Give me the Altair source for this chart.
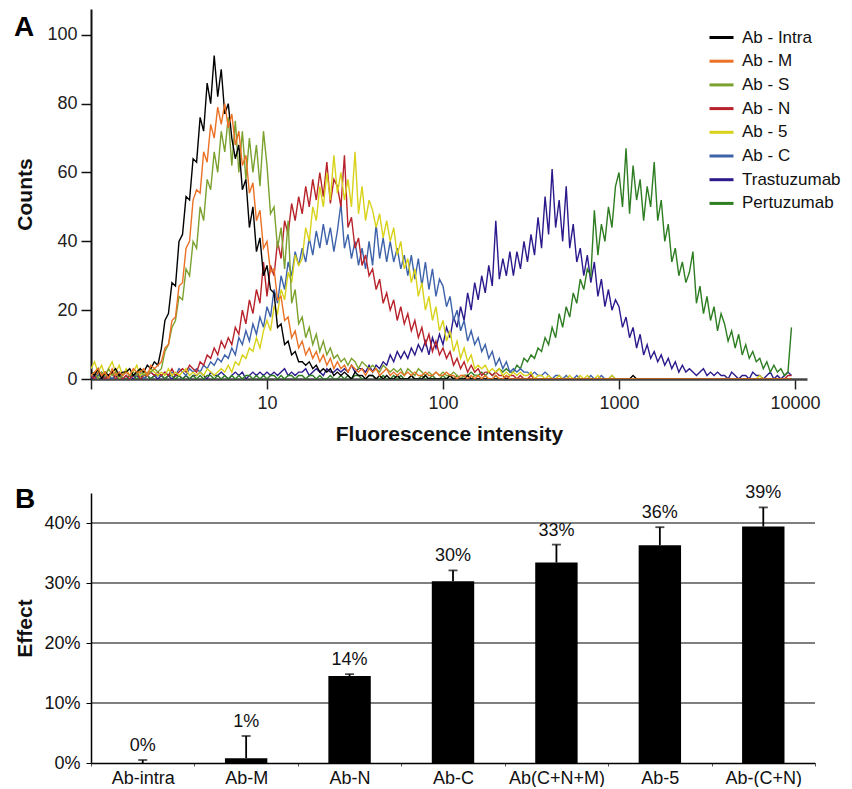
import altair as alt
import pandas as pd

FONT = "Liberation Sans"

# ---------------- Panel A: flow cytometry histograms ----------------
SERIES = ["Ab - Intra", "Ab - M", "Ab - S", "Ab - N", "Ab - 5", "Ab - C",
          "Trastuzumab", "Pertuzumab"]
COLORS = ["#000000", "#EA7125", "#7BA12E", "#B8232B", "#D8D21A", "#3D62AA",
          "#2A1A8C", "#2E7D22"]
DRAW_ORDER = ["Trastuzumab", "Pertuzumab", "Ab - C", "Ab - N", "Ab - 5",
              "Ab - S", "Ab - Intra", "Ab - M"]

# histogram channels: 200 log-spaced bins from 1 to ~9500 (step 0.02 decades)
BINS = [round(10 ** (i * 0.02), 4) for i in range(200)]

AB_INTRA = [2, 1, 3, 0, 2, 1, 2, 3, 1, 2,
            2, 3, 1, 2, 3, 2, 4, 3, 5, 4,
            9, 17, 19, 28, 27, 40, 42, 53, 52, 64,
            63, 76, 72, 86, 80, 94, 82, 90, 77, 80,
            70, 64, 68, 55, 58, 44, 50, 37, 41, 30,
            33, 26, 25, 15, 16, 10, 11, 7, 8, 5,
            5, 4, 5, 3, 4, 2, 3, 2, 3, 1,
            2, 1, 2, 1, 0, 2, 1, 1, 0, 1,
            1, 0, 1, 0, 1, 0, 0, 1, 0, 0,
            0, 1, 0, 0, 0, 1, 0, 0, 0, 0,
            0, 0, 1, 0, 0, 0, 0, 1, 0, 0,
            0, 0, 0, 0, 0, 0, 0, 0, 0, 0,
            0, 0, 0, 0, 0, 0, 0, 0, 0, 0,
            0, 0, 0, 0, 0, 0, 0, 0, 0, 0,
            0, 0, 0, 0, 0, 0, 0, 0, 0, 0,
            0, 0, 0, 0, 1, 0, 0, 0, 0, 0,
            0, 0, 0, 0, 0, 0, 0, 0, 0, 0,
            0, 0, 0, 0, 0, 0, 0, 0, 0, 0,
            0, 0, 0, 0, 0, 0, 0, 0, 0, 0,
            0, 0, 0, 0, 0, 0, 0, 0, 0, 0]

AB_M = [1, 2, 3, 1, 2, 0, 3, 1, 2, 1,
        2, 1, 3, 2, 2, 3, 1, 4, 3, 4,
        5, 9, 10, 17, 18, 27, 28, 38, 40, 52,
        55, 54, 66, 63, 74, 70, 79, 74, 80, 73,
        77, 68, 72, 62, 65, 54, 57, 46, 49, 38,
        40, 31, 32, 23, 24, 17, 18, 12, 14, 9,
        11, 7, 9, 6, 8, 5, 7, 4, 6, 3,
        5, 3, 4, 2, 4, 3, 2, 3, 1, 3,
        2, 3, 1, 2, 3, 1, 2, 1, 2, 1,
        2, 1, 2, 1, 1, 2, 1, 1, 2, 1,
        1, 2, 1, 1, 0, 1, 1, 0, 1, 0,
        1, 0, 1, 0, 0, 1, 0, 0, 1, 0,
        0, 0, 0, 0, 0, 0, 0, 0, 0, 0,
        0, 0, 0, 0, 0, 0, 0, 0, 0, 0,
        0, 0, 0, 0, 0, 0, 0, 0, 0, 0,
        0, 0, 0, 0, 0, 0, 0, 0, 0, 0,
        0, 0, 0, 0, 0, 0, 0, 0, 0, 0,
        0, 0, 0, 0, 0, 0, 0, 0, 0, 0,
        0, 0, 0, 0, 0, 0, 0, 0, 0, 0,
        0, 0, 0, 0, 0, 0, 0, 0, 0, 0]

AB_S = [1, 2, 0, 2, 1, 3, 1, 2, 0, 1,
        2, 1, 2, 1, 3, 1, 2, 2, 3, 2,
        3, 8, 10, 15, 17, 24, 23, 32, 30, 40,
        38, 50, 46, 58, 55, 66, 60, 72, 66, 76,
        62, 75, 60, 72, 58, 70, 60, 68, 56, 72,
        62, 48, 50, 38, 44, 32, 46, 22, 26, 16,
        18, 12, 15, 10, 13, 8, 11, 7, 9, 6,
        7, 5, 6, 4, 6, 5, 3, 5, 4, 3,
        4, 3, 2, 4, 3, 2, 3, 2, 3, 1,
        3, 2, 1, 3, 2, 1, 2, 1, 2, 1,
        2, 1, 1, 2, 1, 0, 1, 1, 0, 1,
        1, 0, 1, 0, 0, 1, 0, 0, 1, 0,
        0, 0, 0, 0, 0, 0, 0, 0, 0, 0,
        0, 0, 0, 0, 0, 0, 0, 0, 0, 0,
        0, 0, 0, 0, 0, 0, 0, 0, 0, 0,
        0, 0, 0, 0, 0, 0, 0, 0, 0, 0,
        0, 0, 0, 0, 0, 0, 0, 0, 0, 0,
        0, 0, 0, 0, 0, 0, 0, 0, 0, 0,
        0, 0, 0, 0, 0, 0, 0, 0, 0, 0,
        0, 0, 0, 0, 0, 0, 0, 0, 0, 0]

AB_N = [1, 0, 2, 1, 0, 1, 2, 0, 1, 0,
        1, 0, 1, 2, 0, 1, 1, 2, 1, 2,
        1, 2, 1, 3, 1, 2, 3, 2, 4, 3,
        2, 5, 4, 7, 6, 9, 7, 11, 9, 12,
        10, 15, 13, 20, 16, 23, 19, 26, 22, 34,
        24, 33, 30, 40, 35, 46, 42, 51, 46, 53,
        48, 56, 50, 58, 52, 60, 53, 63, 51, 58,
        56, 50, 65, 44, 47, 38, 41, 33, 36, 30,
        32, 26, 29, 22, 25, 20, 23, 17, 21, 16,
        19, 14, 17, 12, 15, 10, 13, 8, 11, 7,
        9, 6, 8, 4, 6, 3, 5, 2, 4, 2,
        3, 1, 2, 2, 1, 2, 1, 1, 0, 1,
        1, 0, 1, 0, 0, 1, 0, 0, 0, 0,
        0, 0, 0, 0, 0, 0, 0, 0, 0, 0,
        0, 0, 0, 0, 0, 0, 0, 0, 0, 0,
        0, 0, 0, 0, 0, 0, 0, 0, 0, 0,
        0, 0, 0, 0, 0, 0, 0, 0, 0, 0,
        0, 0, 0, 0, 0, 0, 0, 0, 0, 0,
        0, 0, 0, 0, 0, 0, 0, 0, 0, 0,
        0, 0, 0, 0, 0, 0, 0, 0, 1, 1]

AB_5 = [3, 5, 2, 4, 1, 3, 5, 2, 4, 1,
        3, 1, 2, 4, 1, 2, 1, 3, 2, 1,
        2, 1, 3, 1, 2, 1, 2, 3, 1, 2,
        1, 2, 1, 3, 2, 1, 2, 3, 2, 4,
        2, 5, 4, 7, 6, 9, 8, 12, 9, 14,
        17, 14, 21, 19, 26, 23, 31, 28, 36, 33,
        35, 44, 40, 50, 46, 56, 50, 60, 52, 65,
        54, 60, 52, 58, 50, 66, 48, 56, 46, 52,
        49, 44, 48, 41, 46, 40, 44, 36, 40, 32,
        35, 28, 32, 24, 28, 20, 24, 17, 21, 14,
        17, 11, 14, 8, 11, 6, 9, 5, 7, 3,
        4, 3, 4, 2, 3, 2, 3, 1, 2, 1,
        2, 1, 2, 1, 1, 2, 0, 1, 1, 0,
        1, 0, 0, 1, 0, 0, 1, 0, 0, 1,
        0, 1, 0, 0, 1, 0, 0, 0, 1, 0,
        0, 0, 0, 0, 0, 0, 0, 0, 0, 0,
        0, 0, 0, 0, 0, 0, 0, 0, 0, 0,
        0, 0, 0, 0, 0, 0, 0, 0, 0, 0,
        0, 0, 0, 0, 0, 0, 0, 0, 0, 0,
        1, 0, 0, 0, 0, 0, 0, 0, 0, 0]

AB_C = [1, 0, 1, 2, 0, 1, 0, 1, 2, 0,
        1, 0, 1, 1, 2, 0, 1, 2, 1, 1,
        1, 2, 1, 2, 1, 3, 2, 1, 3, 2,
        3, 2, 4, 3, 5, 4, 6, 5, 7, 6,
        9, 7, 12, 10, 14, 11, 16, 13, 18, 15,
        21, 18, 26, 22, 30, 26, 34, 30, 37, 33,
        38, 34, 41, 36, 43, 38, 45, 39, 44, 37,
        43, 51, 38, 42, 35, 40, 33, 38, 32, 40,
        33, 45, 35, 41, 34, 40, 34, 38, 32, 36,
        30, 36, 29, 35, 27, 34, 26, 32, 24, 29,
        27, 21, 24, 17, 20, 14, 17, 11, 14, 10,
        12, 8, 10, 6, 8, 4, 6, 3, 5, 2,
        3, 2, 3, 2, 2, 1, 2, 1, 1, 2,
        1, 0, 1, 1, 0, 1, 0, 0, 1, 0,
        0, 0, 1, 0, 0, 1, 0, 0, 1, 0,
        0, 0, 0, 0, 0, 0, 0, 0, 0, 0,
        0, 0, 0, 0, 0, 0, 0, 0, 0, 0,
        0, 0, 0, 0, 0, 0, 0, 0, 0, 0,
        0, 0, 0, 0, 0, 0, 0, 0, 0, 0,
        0, 0, 0, 0, 0, 0, 0, 0, 0, 0]

TRASTUZUMAB = [0, 1, 0, 0, 1, 0, 0, 1, 0, 0,
               0, 1, 0, 1, 0, 0, 1, 0, 1, 0,
               1, 0, 1, 0, 1, 1, 0, 1, 0, 1,
               1, 2, 1, 0, 2, 1, 1, 2, 1, 0,
               1, 2, 1, 2, 0, 1, 2, 1, 2, 1,
               2, 1, 2, 1, 2, 3, 1, 2, 1, 2,
               2, 3, 1, 2, 3, 2, 1, 3, 2, 2,
               3, 2, 3, 2, 4, 2, 3, 3, 2, 4,
               2, 4, 3, 5, 4, 7, 5, 8, 6, 8,
               6, 9, 7, 10, 8, 11, 7, 12, 9, 13,
               10, 15, 12, 18, 15, 21, 17, 25, 20, 28,
               23, 30, 25, 33, 27, 46, 29, 35, 30, 37,
               30, 37, 32, 40, 34, 42, 36, 47, 38, 53,
               42, 61, 44, 52, 40, 56, 38, 45, 34, 38,
               30, 36, 28, 34, 24, 29, 21, 26, 20, 23,
               21, 15, 18, 12, 15, 9, 13, 7, 10, 6,
               8, 5, 7, 4, 6, 3, 5, 2, 4, 2,
               3, 2, 1, 2, 3, 1, 2, 1, 2, 1,
               1, 0, 2, 1, 0, 1, 1, 0, 2, 1,
               1, 0, 1, 2, 0, 1, 0, 1, 2, 1]

PERTUZUMAB = [1, 0, 1, 1, 0, 1, 0, 1, 1, 0,
              0, 1, 1, 0, 1, 0, 1, 0, 1, 1,
              1, 0, 1, 1, 0, 1, 0, 1, 0, 1,
              0, 1, 0, 1, 1, 0, 1, 0, 1, 0,
              1, 0, 1, 0, 1, 1, 0, 1, 0, 1,
              0, 1, 1, 0, 1, 0, 1, 1, 0, 1,
              1, 0, 1, 1, 0, 1, 0, 0, 1, 0,
              0, 1, 0, 1, 0, 1, 1, 0, 0, 1,
              1, 0, 0, 1, 0, 0, 1, 0, 1, 0,
              0, 1, 0, 0, 1, 0, 0, 1, 0, 0,
              1, 0, 1, 0, 1, 0, 1, 1, 2, 1,
              1, 2, 1, 2, 1, 2, 3, 2, 3, 2,
              2, 4, 3, 6, 5, 7, 6, 9, 8, 12,
              10, 15, 12, 19, 15, 21, 18, 25, 22, 29,
              26, 32, 30, 49, 36, 45, 40, 50, 44, 56,
              60, 50, 67, 48, 62, 52, 58, 46, 56, 50,
              63, 46, 52, 40, 45, 34, 38, 30, 34, 28,
              31, 37, 22, 27, 19, 24, 17, 21, 14, 19,
              16, 11, 14, 9, 13, 7, 10, 6, 8, 5,
              6, 3, 5, 2, 4, 2, 3, 1, 2, 15]

COUNTS = {
    "Ab - Intra": AB_INTRA, "Ab - M": AB_M, "Ab - S": AB_S, "Ab - N": AB_N,
    "Ab - 5": AB_5, "Ab - C": AB_C, "Trastuzumab": TRASTUZUMAB,
    "Pertuzumab": PERTUZUMAB,
}

X_TICKS = [1, 10, 100, 1000, 10000]
Y_TICKS_A = [0, 20, 40, 60, 80, 100]

rows = []
for s in SERIES:
    for xv, cv in zip(BINS, COUNTS[s]):
        rows.append({"series": s, "x": xv, "count": cv})
hist = pd.DataFrame(rows)

color = alt.Color(
    "series:N",
    scale=alt.Scale(domain=SERIES, range=COLORS),
    legend=alt.Legend(
        title=None, orient="none", legendX=617, legendY=15,
        symbolType="stroke", symbolSize=576, symbolStrokeWidth=3,
        labelFontSize=17, labelFont=FONT, labelColor="#111",
        labelOffset=7, rowPadding=1.7,
    ),
)
xA = alt.X(
    "x:Q",
    scale=alt.Scale(type="log", domain=[1, 11700], nice=False),
    axis=alt.Axis(
        values=X_TICKS, format="d",
        labelExpr="datum.value == 1 ? '' : datum.label",
        tickSize=10, tickColor="#222", tickWidth=1.5,
        labelPadding=5, labelFontSize=18, labelColor="#222", labelFlush=False,
        domainColor="#444", domainWidth=2.5, grid=False,
        title="Fluorescence intensity", titleFontSize=21,
        titleFontWeight="bold", titlePadding=11, titleColor="#111",
    ),
)
yA = alt.Y(
    "count:Q",
    scale=alt.Scale(domain=[0, 107.5], nice=False),
    axis=alt.Axis(
        values=Y_TICKS_A, tickSize=10, tickColor="#111", tickWidth=1.5,
        labelPadding=4, labelFontSize=18, labelColor="#222",
        domainColor="#111", domainWidth=2, grid=False,
        title="Counts", titleFontSize=21, titleFontWeight="bold",
        titlePadding=11, titleColor="#111",
    ),
)

line_layers = []
for s in DRAW_ORDER:
    line_layers.append(
        alt.Chart(hist)
        .transform_filter(alt.datum.series == s)
        .mark_line(strokeWidth=1.4, clip=True)
        .encode(x=xA, y=yA, color=color)
    )

letterA = alt.Chart(pd.DataFrame({"t": ["A"]})).mark_text(
    fontSize=28, fontWeight="bold", align="center", baseline="middle", color="#000"
).encode(text="t:N", x=alt.value(-67), y=alt.value(19))

panelA = alt.layer(*line_layers, letterA).properties(width=716, height=370)

# ---------------- Panel B: effect bar chart ----------------
CATS = ["Ab-intra", "Ab-M", "Ab-N", "Ab-C", "Ab(C+N+M)", "Ab-5", "Ab-(C+N)"]
EFFECT = [0.000, 0.008, 0.145, 0.303, 0.334, 0.363, 0.394]
ERR = [0.005, 0.037, 0.003, 0.018, 0.030, 0.030, 0.032]
LABELS = ["0%", "1%", "14%", "30%", "33%", "36%", "39%"]
GRID = [0.1, 0.2, 0.3, 0.4]
Y_TICKS_B = [0, 0.05, 0.1, 0.15, 0.2, 0.25, 0.3, 0.35, 0.4, 0.45]

bars_df = pd.DataFrame({
    "cat": CATS, "effect": EFFECT,
    "top": [e + d for e, d in zip(EFFECT, ERR)], "label": LABELS,
})

scaleB = alt.Scale(domain=[0, 0.45], nice=False)
axisB = alt.Axis(
    values=Y_TICKS_B, format=".0%",
    labelExpr="round(datum.value * 100) % 10 == 0 ? datum.label : ''",
    tickSize=5, tickColor="#000", tickWidth=1,
    labelPadding=6, labelFontSize=18, labelColor="#111",
    domainColor="#000", domainWidth=1.5, grid=False,
    title="Effect", titleFontSize=21, titleFontWeight="bold",
    titlePadding=8, titleColor="#111",
)
xB = alt.X(
    "cat:N", sort=CATS,
    scale=alt.Scale(paddingInner=0, paddingOuter=0),
    axis=alt.Axis(
        title=None, labelAngle=0, labelFontSize=18, labelColor="#111",
        tickBand="extent", tickSize=3, tickColor="#555", tickWidth=1,
        domainColor="#000", domainWidth=1.5, labelPadding=3,
    ),
)

grid = alt.Chart(pd.DataFrame({"g": GRID})).mark_rule(
    color="#000", strokeWidth=1.2
).encode(y=alt.Y("g:Q", scale=scaleB, axis=axisB))

base = alt.Chart(bars_df)
bars = base.mark_bar(color="#000", width=alt.RelativeBandSize(0.41)).encode(
    x=xB, y=alt.Y("effect:Q", scale=scaleB, axis=axisB))
err = base.mark_rule(color="#000", strokeWidth=1.8).encode(
    x=alt.X("cat:N", sort=CATS), y="effect:Q", y2="top:Q")
caps = base.mark_tick(color="#000", thickness=1.8, size=9).encode(
    x=alt.X("cat:N", sort=CATS), y="top:Q")
vals = base.mark_text(fontSize=18, baseline="alphabetic", dy=-9, color="#111").encode(
    x=alt.X("cat:N", sort=CATS), y="top:Q", text="label:N")

letterB = alt.Chart(pd.DataFrame({"t": ["B"]})).mark_text(
    fontSize=28, fontWeight="bold", align="center", baseline="middle", color="#000"
).encode(text="t:N", x=alt.value(-66), y=alt.value(7))

panelB = alt.layer(grid, bars, err, caps, vals, letterB).properties(width=724, height=270)

chart = (
    alt.vconcat(panelA, panelB, spacing=114, bounds="flush")
    .properties(padding={"left": 5, "top": 1, "right": 0, "bottom": 0})
    .configure(font=FONT)
    .configure_view(stroke=None)
)

chart.save("out.html", embed_options={"renderer": "svg", "actions": False})
